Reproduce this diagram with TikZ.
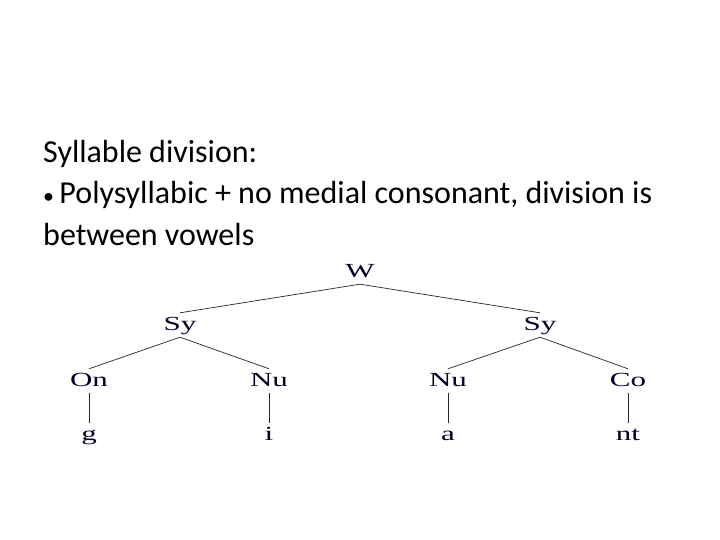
\documentclass[tikz,border=0pt]{standalone}
\usepackage{fontspec}
\usepackage{graphicx}
\setmainfont{Carlito}
\newfontfamily\treefont{Liberation Serif}
\newcommand\widetxt[1]{\scalebox{1.55}[1]{#1}}
\begin{document}
\begin{tikzpicture}[x=1pt,y=-1pt,
    lbl/.style={anchor=base, font=\treefont\fontsize{20}{22}\selectfont, text=black!85!blue,
      inner sep=4pt, text height=13pt, text depth=3pt},
    branch/.style={line width=0.7pt, black!85}]
        \useasboundingbox[fill=white] (0,0) rectangle (720,540);
        %% heading text (base is the last line)
        \node[anchor=base west, align=left, inner sep=0pt, font=\fontsize{32}{41.5}\selectfont] (heading) at (43,245)
          {Syllable division:\\ {\fontsize{22}{22}\selectfont •}\,Polysyllabic + no medial consonant, division is\\ between vowels};
        %% word and syllables
        \node[lbl] (word) at (360,277) {\widetxt{W}};
        \node[lbl] (syl1) at (180,330) {\widetxt{Sy}};
        \node[lbl] (syl2) at (540,330) {\widetxt{Sy}};
        %% constituents
        \node[lbl] (ons) at (89,386) {\widetxt{On}};
        \node[lbl] (nuc1) at (269,386) {\widetxt{Nu}};
        \node[lbl] (nuc2) at (448,386) {\widetxt{Nu}};
        \node[lbl] (cod) at (628,386) {\widetxt{Co}};
        %% segments
        \node[lbl] (sg) at (89,440) {\widetxt{g}};
        \node[lbl] (si) at (269,440) {\widetxt{i}};
        \node[lbl] (sa) at (448,440) {\widetxt{a}};
        \node[lbl] (snt) at (628,440) {\widetxt{nt}};
        %% branches
        \draw[branch] (syl1.north) -- (word.south) -- (syl2.north);
        \draw[branch] (ons.north) -- (syl1.south) -- (nuc1.north);
        \draw[branch] (nuc2.north) -- (syl2.south) -- (cod.north);
        \draw[branch] (ons.south) -- (sg.north);
        \draw[branch] (nuc1.south) -- (si.north);
        \draw[branch] (nuc2.south) -- (sa.north);
        \draw[branch] (cod.south) -- (snt.north);
    \end{tikzpicture}
\end{document}
